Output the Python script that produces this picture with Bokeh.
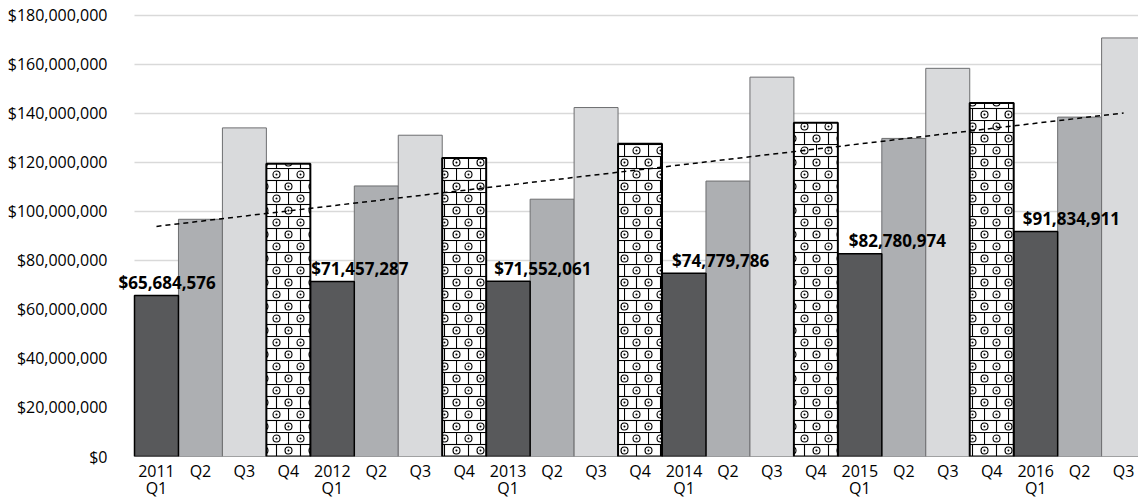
import base64
import numpy as np
from bokeh.plotting import figure
from bokeh.models import (ColumnDataSource, FixedTicker, NumeralTickFormatter,
                          Range1d, ImageURLTexture, LabelSet)
from bokeh.core.properties import value
from bokeh.embed import file_html
from bokeh.resources import INLINE

# ---------------- data ----------------
years = ["2011", "2012", "2013", "2014", "2015", "2016"]
quarter_names = ["Q1", "Q2", "Q3", "Q4"]
revenue = [
    65684576, 96800000, 134100000, 119500000,
    71457287, 110400000, 131100000, 121800000,
    71552061, 105000000, 142400000, 127600000,
    74779786, 112400000, 154800000, 136200000,
    82780974, 129800000, 158400000, 144300000,
    91834911, 138500000, 170800000,
]
y_ticks = [0, 20e6, 40e6, 60e6, 80e6, 100e6, 120e6, 140e6, 160e6, 180e6]

# ---------------- derived ----------------
n = len(revenue)
idx = list(range(n))
qnum = [i % 4 for i in idx]
tick_labels = {}
for i in idx:
    if qnum[i] == 0:
        tick_labels[i] = years[i // 4] + "\n" + quarter_names[0]
    else:
        tick_labels[i] = quarter_names[qnum[i]]

def group(q):
    xs = [i for i in idx if qnum[i] == q]
    return dict(x=xs, top=[revenue[i] for i in xs])

FONT = "Open Sans"
X0, X1 = -0.9095, 22.339

p = figure(width=1138, height=503, output_backend="svg", toolbar_location=None,
           x_range=Range1d(X0, X1), y_range=Range1d(0, 182e6),
           min_border_left=116, min_border_right=0, min_border_top=10,
           min_border_bottom=47)
p.outline_line_color = None
p.background_fill_color = "white"
p.border_fill_color = "white"
p.grid.grid_line_color = None

# gridlines starting at the first bar edge
p.segment(x0=[-0.5] * len(y_ticks), x1=[X1] * len(y_ticks), y0=y_ticks, y1=y_ticks,
          line_color=["#a6a6a6"] + ["#d9d9d9"] * (len(y_ticks) - 1), line_width=1.5)

# pattern texture for Q4 bars (brick with rings)
tile = """<svg xmlns='http://www.w3.org/2000/svg' width='24' height='24'>
<rect width='24' height='24' fill='white'/>
<g stroke='black' stroke-width='1.1' fill='none'>
<line x1='0' y1='0.5' x2='24' y2='0.5'/><line x1='0' y1='12.5' x2='24' y2='12.5'/>
<line x1='0.5' y1='0' x2='0.5' y2='12.5'/><line x1='12.5' y1='12.5' x2='12.5' y2='24'/>
<circle cx='12.5' cy='6.5' r='3.5'/><circle cx='0.5' cy='18.5' r='3.5'/><circle cx='24.5' cy='18.5' r='3.5'/>
</g>
<g fill='black'>
<circle cx='12.5' cy='6.5' r='1'/><circle cx='0.5' cy='18.5' r='1'/><circle cx='24.5' cy='18.5' r='1'/>
</g></svg>"""
url = "data:image/svg+xml;base64," + base64.b64encode(tile.encode()).decode()
extra = {"img": ImageURLTexture(url=url)}

# bars
p.vbar(x="x", top="top", width=1.0, bottom=0, source=ColumnDataSource(group(1)),
       fill_color="#adafb2", line_color="#6d6e70", line_width=1)
p.vbar(x="x", top="top", width=1.0, bottom=0, source=ColumnDataSource(group(2)),
       fill_color="#d9dadc", line_color="#6d6e70", line_width=1)
p.vbar(x="x", top="top", width=1.0, bottom=0, source=ColumnDataSource(group(0)),
       fill_color="#58595b", line_color="black", line_width=1.5)
g4 = group(3)
g4["pat"] = ["img"] * len(g4["x"])
p.vbar(x="x", top="top", width=1.0, bottom=0, source=ColumnDataSource(g4),
       fill_color="white", line_color="black", line_width=2,
       hatch_pattern="pat", hatch_extra=extra, hatch_scale=24, hatch_color="black")

# trend line (linear fit of the series)
slope, intercept = np.polyfit(idx, revenue, 1)
p.line(x=[idx[0], idx[-1]], y=[intercept + slope * idx[0], intercept + slope * idx[-1]],
       line_color="black", line_width=1.5, line_dash="5 4")

# data labels on Q1 bars
q1 = [i for i in idx if qnum[i] == 0]
label_dx = [-16, 1, 8, 10, 11, 9]
lab_src = ColumnDataSource(dict(
    x=[i - 0.5 for i in q1], y=[revenue[i] for i in q1],
    text=["${:,}".format(revenue[i]) for i in q1],
    dx=label_dx))
p.add_layout(LabelSet(x="x", y="y", text="text", x_offset="dx", y_offset=13,
                      source=lab_src, text_align="left", text_baseline="middle",
                      text_font=value(FONT), text_font_style="bold",
                      text_font_size="17px", text_color="black"))

# axes
p.xaxis.ticker = FixedTicker(ticks=idx)
p.xaxis.major_label_overrides = tick_labels
p.xaxis.axis_line_color = None
p.xaxis.major_tick_line_color = None
p.xaxis.minor_tick_line_color = None
p.xaxis.major_label_text_font = FONT
p.xaxis.major_label_text_font_size = "16px"
p.xaxis.major_label_text_line_height = 0.78
p.xaxis.major_label_text_color = "black"
p.xaxis.major_label_standoff = -3

p.yaxis.ticker = FixedTicker(ticks=y_ticks)
p.yaxis.formatter = NumeralTickFormatter(format="$0,0")
p.yaxis.axis_line_color = None
p.yaxis.major_tick_line_color = None
p.yaxis.minor_tick_line_color = None
p.yaxis.major_label_text_font = FONT
p.yaxis.major_label_text_font_size = "16px"
p.yaxis.major_label_text_color = "black"
p.yaxis.major_label_standoff = 3

open("out.html", "w").write(file_html(p, INLINE))
